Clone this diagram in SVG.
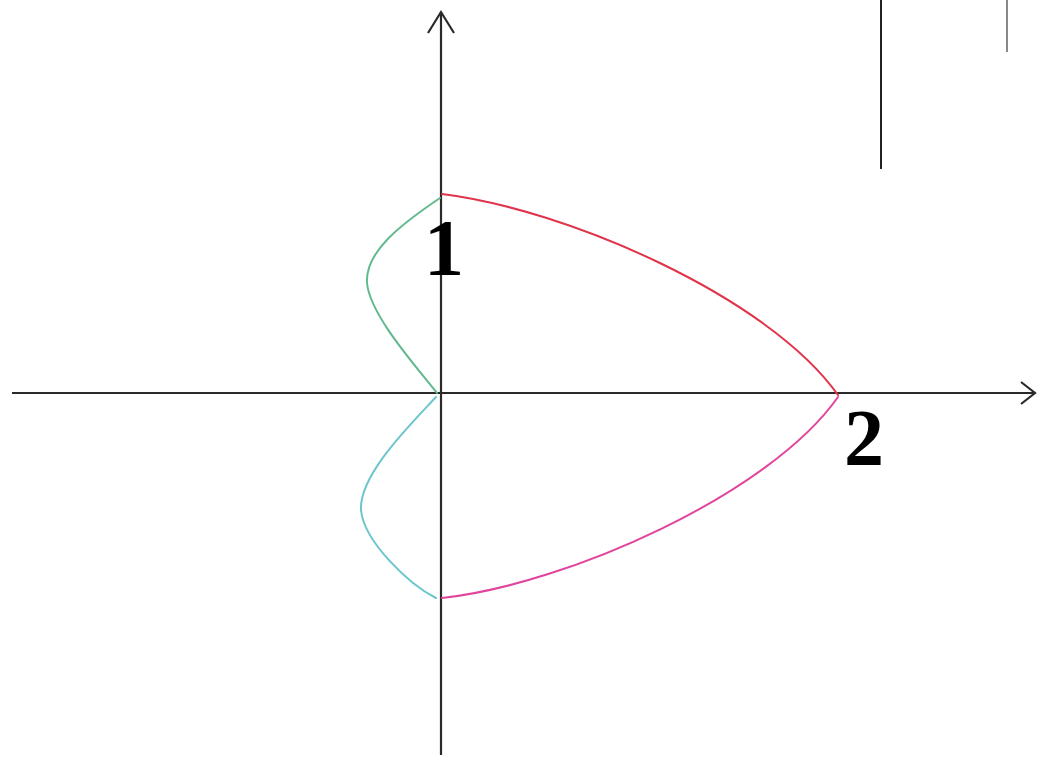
<svg xmlns="http://www.w3.org/2000/svg" width="1039" height="760" viewBox="0 0 1039 760">
<style>
.axis{stroke:#2a2a2a;stroke-width:2.2;fill:none}
.curve{fill:none;stroke-width:2;stroke-linecap:round}
.lbl{font-family:"Liberation Serif","Times New Roman",serif;font-size:80px;font-weight:bold;fill:#000;text-anchor:middle}
</style>
<rect width="1039" height="760" fill="#fff"/>
<g id="axes">
<line class="axis" x1="12" y1="393" x2="1035" y2="393"/>
<polyline class="axis" points="1021,382 1035,393 1021,404"/>
<line class="axis" x1="441" y1="12" x2="441" y2="755"/>
<polyline class="axis" points="428,33 441,12 454,33"/>
</g>
<g id="marks">
<line x1="881" y1="0" x2="881" y2="169" stroke="#222" stroke-width="2"/>
<line x1="1007" y1="0" x2="1007" y2="52" stroke="#888" stroke-width="2"/>
</g>
<g id="connectors">
<path id="red" class="curve" stroke="#e0344a" d="M442,194 C565,209 768,296 838,395"/>
<path id="pink" class="curve" stroke="#e0449c" d="M442,598 C568,584 770,494 838,397"/>
<path id="green" class="curve" stroke="#62b98e" d="M440,198 C400,225 365,252 367,283 C370,315 415,365 437,393"/>
<path id="cyan" class="curve" stroke="#6cc6cc" d="M436,397 C410,425 359,475 361,510 C364,542 410,585 436,598"/>
</g>
<g id="label-1"><text class="lbl" x="444" y="275">1</text></g>
<g id="label-2"><text class="lbl" x="864" y="465">2</text></g>
</svg>
